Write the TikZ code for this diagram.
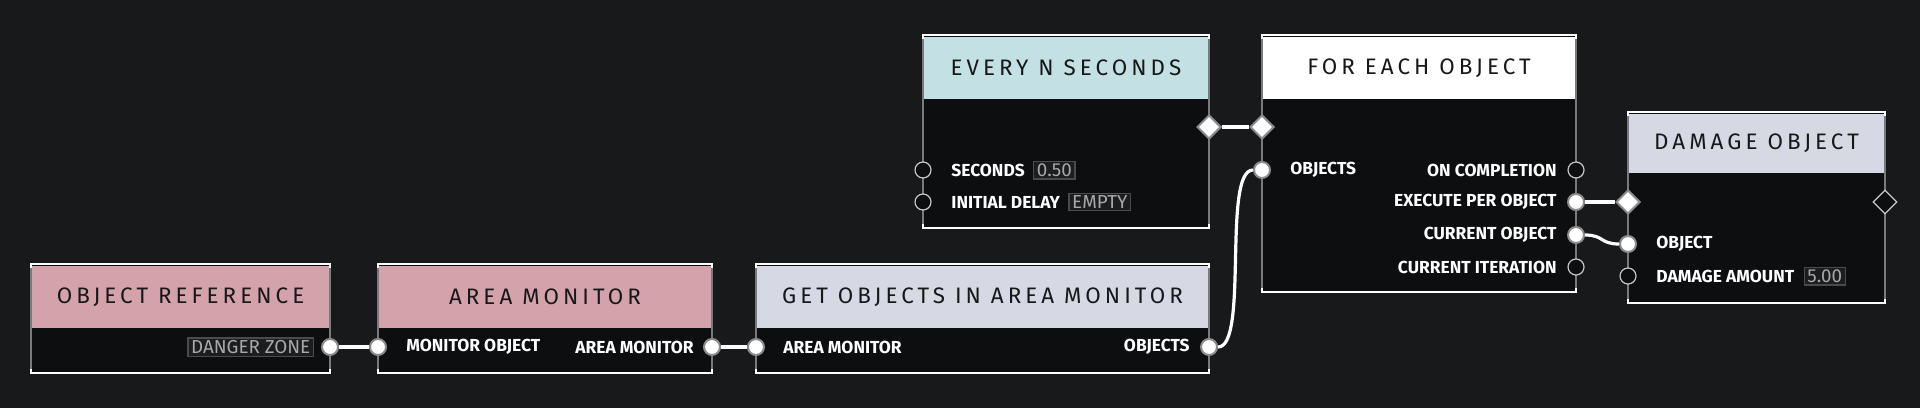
\documentclass[tikz,border=0pt]{standalone}
\usepackage{fontspec}
\setmainfont{Fira Sans}
\newfontfamily\titlefont[LetterSpace=18]{Fira Sans}
\usetikzlibrary{shapes.geometric}

\definecolor{bgcol}{HTML}{18191B}
\definecolor{bodycol}{HTML}{0D0E10}
\definecolor{sidecol}{HTML}{7A7A7A}
\definecolor{titlecol}{HTML}{17181A}
\definecolor{pinkhead}{HTML}{D4A2AA}
\definecolor{bluehead}{HTML}{C3E0E4}
\definecolor{lavhead}{HTML}{D6D8E3}
\definecolor{portring}{HTML}{8C8C8C}
\definecolor{hollowring}{HTML}{C8C8C8}
\definecolor{valline}{HTML}{4A4B4D}
\definecolor{valfill}{HTML}{1C1D1F}
\definecolor{valtext}{HTML}{A8A8A8}

\begin{document}
\begin{tikzpicture}[x=0.5pt,y=-0.5pt,
    body/.style={fill=bodycol},
    side/.style={draw=sidecol, line width=0.8pt},
    rim/.style={draw=white, line width=0.8pt},
    title/.style={font=\titlefont\fontsize{11.2}{13}\selectfont, text=titlecol},
    lbl/.style={font=\bfseries\fontsize{8.7}{10}\selectfont, text=white, inner sep=0pt},
    val/.style={draw=valline, fill=valfill, text=valtext, font=\fontsize{9.4}{11}\selectfont,
        inner xsep=1.6pt, inner ysep=1.2pt, line width=0.6pt, anchor=west},
    port/.style={circle, minimum size=8pt, inner sep=0pt, fill=white, draw=portring, line width=1pt},
    hport/.style={circle, minimum size=8pt, inner sep=0pt, fill=bodycol, draw=hollowring, line width=0.6pt},
    flow/.style={diamond, minimum width=12pt, minimum height=12pt, inner sep=0pt, fill=white, draw=portring, line width=1pt},
    hflow/.style={diamond, minimum width=12pt, minimum height=12pt, inner sep=0pt, fill=bodycol, draw=hollowring, line width=0.6pt},
    wire/.style={draw=white, line width=2pt},
]
    \useasboundingbox (0,0) rectangle (1920,408);
    \fill[bgcol] (0,0) rectangle (1920,408);

    % object reference
    \fill[body] (31,264) rectangle (330,373);
    \fill[pinkhead] (31,266) rectangle (330,328);
    \draw[side] (31,264) -- (31,373) (330,264) -- (330,373);
    \draw[rim] (31,268) -- (31,264) -- (330,264) -- (330,268) (31,369) -- (31,373) -- (330,373) -- (330,369);
    \node[title] (objref) at (180.5,297) {OBJECT REFERENCE};
    \node[val, anchor=east] (objref-val) at (314,347) {DANGER ZONE};
    \node[port] (objref-out) at (330,347) {};

    % area monitor
    \fill[body] (378,264) rectangle (712,373);
    \fill[pinkhead] (378,266) rectangle (712,328);
    \draw[side] (378,264) -- (378,373) (712,264) -- (712,373);
    \draw[rim] (378,268) -- (378,264) -- (712,264) -- (712,268) (378,369) -- (378,373) -- (712,373) -- (712,369);
    \node[title] (areamon) at (545,297) {AREA MONITOR};
    \node[lbl, anchor=west] (areamon-objlbl) at (406,347) {MONITOR OBJECT};
    \node[lbl, anchor=east] (areamon-outlbl) at (694,347) {AREA MONITOR};
    \node[port] (areamon-in) at (378,347) {};
    \node[port] (areamon-out) at (712,347) {};

    % get objects in area monitor
    \fill[body] (756,264) rectangle (1209,373);
    \fill[lavhead] (756,266) rectangle (1209,328);
    \draw[side] (756,264) -- (756,373) (1209,264) -- (1209,373);
    \draw[rim] (756,268) -- (756,264) -- (1209,264) -- (1209,268) (756,369) -- (756,373) -- (1209,373) -- (1209,369);
    \node[title] (getobj) at (982.5,297) {GET OBJECTS IN AREA MONITOR};
    \node[lbl, anchor=west] (getobj-inlbl) at (783,347) {AREA MONITOR};
    \node[lbl, anchor=east] (getobj-outlbl) at (1190,347) {OBJECTS};
    \node[port] (getobj-in) at (756,347) {};
    \node[port] (getobj-out) at (1209,347) {};

    % every n seconds
    \fill[body] (923,35) rectangle (1209,228);
    \fill[bluehead] (923,37) rectangle (1209,99);
    \draw[side] (923,35) -- (923,228) (1209,35) -- (1209,228);
    \draw[rim] (923,39) -- (923,35) -- (1209,35) -- (1209,39) (923,224) -- (923,228) -- (1209,228) -- (1209,224);
    \node[title] (everyn) at (1066,68) {EVERY N SECONDS};
    \node[lbl, anchor=west] (everyn-sec) at (951,170) {SECONDS};
    \node[val] (everyn-secval) at ([xshift=4pt]everyn-sec.east) {0.50};
    \node[lbl, anchor=west] (everyn-delay) at (951,202) {INITIAL DELAY};
    \node[val] (everyn-delayval) at ([xshift=4pt]everyn-delay.east) {EMPTY};
    \node[hport] (everyn-secin) at (923,170) {};
    \node[hport] (everyn-delayin) at (923,202) {};
    \node[flow] (everyn-exec) at (1209,127) {};

    % for each object
    \fill[body] (1262,35) rectangle (1576,292);
    \fill[white] (1262,37) rectangle (1576,99);
    \draw[side] (1262,35) -- (1262,292) (1576,35) -- (1576,292);
    \draw[rim] (1262,39) -- (1262,35) -- (1576,35) -- (1576,39) (1262,288) -- (1262,292) -- (1576,292) -- (1576,288);
    \node[title] (foreach) at (1419,68) {FOR EACH OBJECT};
    \node[lbl, anchor=west] (foreach-objlbl) at (1290,170) {OBJECTS};
    \node[lbl, anchor=east] (foreach-donelbl) at (1557,170) {ON COMPLETION};
    \node[lbl, anchor=east] (foreach-execlbl) at (1557,202) {EXECUTE PER OBJECT};
    \node[lbl, anchor=east] (foreach-curlbl) at (1557,235) {CURRENT OBJECT};
    \node[lbl, anchor=east] (foreach-iterlbl) at (1557,267) {CURRENT ITERATION};
    \node[flow] (foreach-enter) at (1262,127) {};
    \node[port] (foreach-objin) at (1262,170) {};
    \node[hport] (foreach-done) at (1576,170) {};
    \node[port] (foreach-exec) at (1576,202) {};
    \node[port] (foreach-cur) at (1576,235) {};
    \node[hport] (foreach-iter) at (1576,267) {};

    % damage object
    \fill[body] (1628,112) rectangle (1885,303);
    \fill[lavhead] (1628,114) rectangle (1885,173);
    \draw[side] (1628,112) -- (1628,303) (1885,112) -- (1885,303);
    \draw[rim] (1628,116) -- (1628,112) -- (1885,112) -- (1885,116) (1628,299) -- (1628,303) -- (1885,303) -- (1885,299);
    \node[title] (damage) at (1756.5,143) {DAMAGE OBJECT};
    \node[lbl, anchor=west] (damage-objlbl) at (1656,244) {OBJECT};
    \node[lbl, anchor=west] (damage-amtlbl) at (1656,276) {DAMAGE AMOUNT};
    \node[val] (damage-amtval) at ([xshift=4.5pt]damage-amtlbl.east) {5.00};
    \node[flow] (damage-enter) at (1628,202) {};
    \node[hflow] (damage-exit) at (1885,202) {};
    \node[port] (damage-objin) at (1628,244) {};
    \node[hport] (damage-amtin) at (1628,276) {};

    % wires
    \draw[wire] (objref-out) -- (areamon-in);
    \draw[wire] (areamon-out) -- (getobj-in);
    \draw[wire] (everyn-exec) -- (foreach-enter);
    \draw[wire, line width=1.6pt] (getobj-out) .. controls +(40,0) and +(-40,0) .. (foreach-objin);
    \draw[wire] (foreach-exec) -- (damage-enter);
    \draw[wire, line width=1.6pt] (foreach-cur) .. controls +(28,0) and +(-28,0) .. (damage-objin);
\end{tikzpicture}
\end{document}
